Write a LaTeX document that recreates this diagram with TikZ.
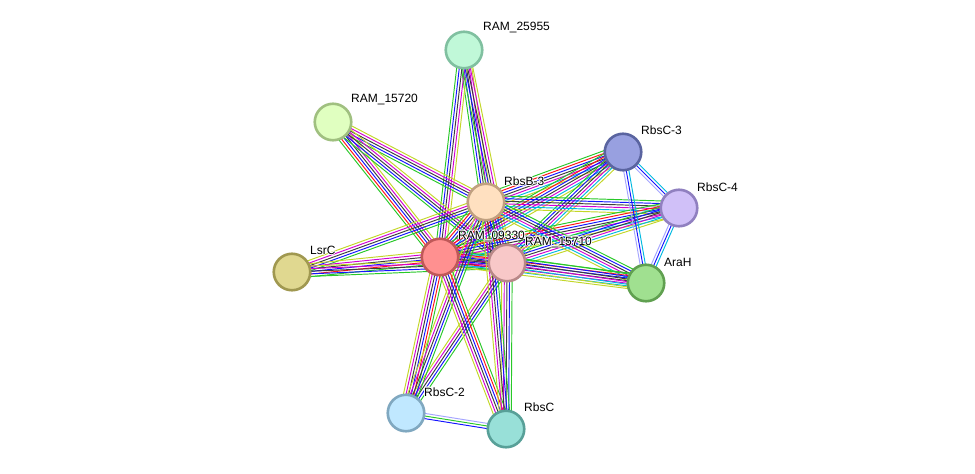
\documentclass[tikz,border=0pt]{standalone}
\usepackage{fontspec}
\setmainfont{Liberation Sans}
\usetikzlibrary{calc}
\pgfdeclarelayer{bg}
\pgfdeclarelayer{paper}
\pgfsetlayers{paper,bg,main}
\definecolor{sg}{RGB}{40,200,40}
\definecolor{sr}{RGB}{255,20,20}
\definecolor{sb}{RGB}{20,20,255}
\definecolor{sk}{RGB}{60,60,60}
\definecolor{sm}{RGB}{210,0,210}
\definecolor{sc}{RGB}{0,185,225}
\definecolor{sy}{RGB}{195,215,40}
\definecolor{sp}{RGB}{165,165,255}
\definecolor{f1}{HTML}{C0F8D8}\definecolor{d1}{HTML}{80C0A0}
\definecolor{f2}{HTML}{E0FFC0}\definecolor{d2}{HTML}{A0C080}
\definecolor{f3}{HTML}{98A0E0}\definecolor{d3}{HTML}{5A64A0}
\definecolor{f4}{HTML}{FFE0C0}\definecolor{d4}{HTML}{C0A080}
\definecolor{f5}{HTML}{D0C0F8}\definecolor{d5}{HTML}{9080C0}
\definecolor{f6}{HTML}{FF9090}\definecolor{d6}{HTML}{C05858}
\definecolor{f7}{HTML}{F8C8C8}\definecolor{d7}{HTML}{B88888}
\definecolor{f8}{HTML}{E0D890}\definecolor{d8}{HTML}{A09850}
\definecolor{f9}{HTML}{A0E090}\definecolor{d9}{HTML}{60A050}
\definecolor{f10}{HTML}{C0E8FF}\definecolor{d10}{HTML}{80A8C0}
\definecolor{f11}{HTML}{98E0D8}\definecolor{d11}{HTML}{58A098}
\newcommand\sedge[4]{%
  \foreach \c [count=\i] in {#4}{%
    \pgfmathsetmacro\off{(\i-(#3+1)/2)*2.6}
    \draw[\c] ($(#1)!\off pt!90:(#2)$) -- ($(#2)!\off pt!-90:(#1)$);
  }}
\newcommand\hcopy[3]{\makebox[0pt][l]{\hspace*{#1}\raisebox{#2}{\textcolor{white}{#3}}}}
\newcommand\halo[1]{\hcopy{0.9pt}{0pt}{#1}\hcopy{-0.9pt}{0pt}{#1}\hcopy{0pt}{0.9pt}{#1}\hcopy{0pt}{-0.9pt}{#1}%
  \hcopy{0.65pt}{0.65pt}{#1}\hcopy{-0.65pt}{0.65pt}{#1}\hcopy{0.65pt}{-0.65pt}{#1}\hcopy{-0.65pt}{-0.65pt}{#1}#1}
\tikzset{
  prot/.style={circle, minimum size=36.5pt, inner sep=0pt, line width=2.6pt, fill=f#1, draw=d#1},
  lbl/.style={anchor=west, inner sep=0pt, font=\fontsize{12}{14}\selectfont, text=black}
}
\begin{document}
\begin{tikzpicture}[x=1pt,y=-1pt]
\begin{pgfonlayer}{paper}
\fill[white] (0,0) rectangle (975,474);
\end{pgfonlayer}
\useasboundingbox (0,0) rectangle (975,474);
\node[prot=1] (r25955) at (464,50) {};
\node[prot=2] (r15720) at (333,122) {};
\node[prot=3] (rbsc3) at (623,152) {};
\node[prot=4] (rbsb3) at (486,202) {};
\node[prot=5] (rbsc4) at (679,208) {};
\node[prot=6] (r09330) at (440,257) {};
\node[prot=7] (r15710) at (507,263) {};
\node[prot=8] (lsrc) at (292,272) {};
\node[prot=9] (arah) at (646,283) {};
\node[prot=10] (rbsc2) at (406,413) {};
\node[prot=11] (rbsc) at (506,429) {};
\begin{pgfonlayer}{bg}
\begin{scope}[line width=0.95pt]
\sedge{r25955}{rbsb3}{5}{sg,sb,sk,sm,sy}
\sedge{r25955}{r09330}{5}{sg,sb,sk,sm,sy}
\sedge{r25955}{r15710}{5}{sg,sb,sk,sm,sy}
\sedge{r15720}{rbsb3}{5}{sg,sb,sk,sm,sy}
\sedge{r15720}{r09330}{6}{sg,sr,sb,sk,sm,sy}
\sedge{r15720}{r15710}{5}{sg,sb,sk,sm,sy}
\sedge{lsrc}{rbsb3}{5}{sg,sb,sk,sm,sy}
\sedge{lsrc}{r09330}{6}{sg,sr,sb,sk,sm,sy}
\sedge{lsrc}{r15710}{5}{sg,sb,sk,sm,sy}
\sedge{rbsb3}{r09330}{7}{sg,sr,sb,sk,sm,sc,sy}
\sedge{rbsb3}{r15710}{7}{sg,sr,sb,sk,sm,sc,sy}
\sedge{r09330}{r15710}{7}{sg,sr,sb,sk,sm,sc,sy}
\sedge{rbsc3}{rbsb3}{7}{sg,sr,sb,sk,sm,sc,sy}
\sedge{rbsc3}{r09330}{7}{sg,sr,sb,sk,sm,sc,sy}
\sedge{rbsc3}{r15710}{6}{sg,sb,sk,sm,sc,sy}
\sedge{rbsc4}{rbsb3}{6}{sg,sb,sk,sm,sc,sy}
\sedge{rbsc4}{r09330}{7}{sg,sr,sb,sk,sm,sc,sy}
\sedge{rbsc4}{r15710}{6}{sg,sb,sk,sm,sc,sy}
\sedge{arah}{rbsb3}{6}{sg,sb,sk,sm,sc,sy}
\sedge{arah}{r09330}{7}{sg,sr,sb,sk,sm,sc,sy}
\sedge{arah}{r15710}{6}{sg,sb,sk,sm,sc,sy}
\sedge{rbsc3}{rbsc4}{3}{sp,sb,sc}
\sedge{rbsc3}{arah}{3}{sp,sb,sc}
\sedge{rbsc4}{arah}{3}{sp,sb,sc}
\sedge{rbsc2}{r09330}{6}{sg,sr,sb,sk,sm,sy}
\sedge{rbsc2}{r15710}{5}{sg,sb,sk,sm,sy}
\sedge{rbsc2}{rbsb3}{5}{sg,sb,sk,sm,sy}
\sedge{rbsc}{r09330}{6}{sg,sr,sb,sk,sm,sy}
\sedge{rbsc}{r15710}{5}{sg,sb,sk,sm,sy}
\sedge{rbsc}{rbsb3}{5}{sg,sb,sk,sm,sy}
\sedge{rbsc2}{rbsc}{3}{sb,sg,sp}
\end{scope}
\end{pgfonlayer}
\node[lbl] (t1) at ($(r25955)+(19,-22)$) {\halo{RAM\_25955}};
\node[lbl] (t2) at ($(r15720)+(18,-22)$) {\halo{RAM\_15720}};
\node[lbl] (t3) at ($(rbsc3)+(18,-22)$) {\halo{RbsC-3}};
\node[lbl] (t4) at ($(rbsb3)+(18,-21)$) {\halo{RbsB-3}};
\node[lbl] (t5) at ($(rbsc4)+(18,-21)$) {\halo{RbsC-4}};
\node[lbl] (t6) at ($(r09330)+(18,-21)$) {\halo{RAM\_09330}};
\node[lbl] (t7) at ($(r15710)+(18,-21)$) {\halo{RAM\_15710}};
\node[lbl] (t8) at ($(lsrc)+(18,-22)$) {\halo{LsrC}};
\node[lbl] (t9) at ($(arah)+(18,-21)$) {\halo{AraH}};
\node[lbl] (t10) at ($(rbsc2)+(18,-21)$) {\halo{RbsC-2}};
\node[lbl] (t11) at ($(rbsc)+(18,-22)$) {\halo{RbsC}};
\end{tikzpicture}
\end{document}
